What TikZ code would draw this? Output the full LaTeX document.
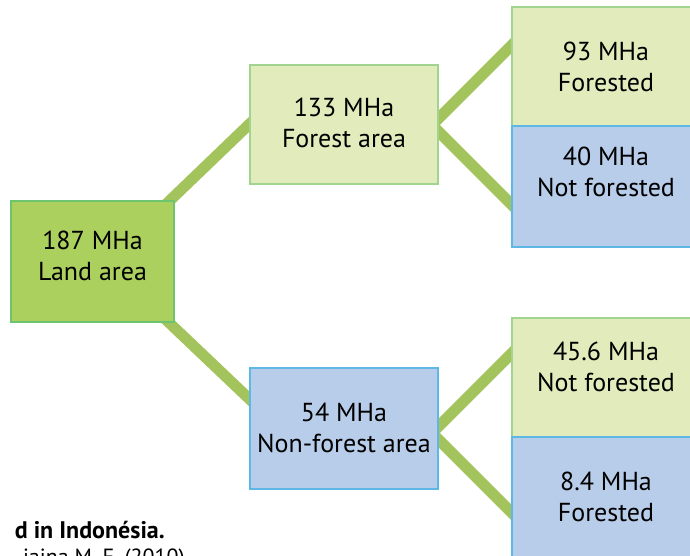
\documentclass[tikz,border=0pt]{standalone}
\usepackage{fontspec}
\setmainfont{PT Sans}
\usetikzlibrary{calc}
\definecolor{landfill}{HTML}{ACD05E}
\definecolor{landedge}{HTML}{6DC46F}
\definecolor{lgfill}{HTML}{E2EBBB}
\definecolor{lgedge}{HTML}{9FD58F}
\definecolor{bfill}{HTML}{B8CDEA}
\definecolor{bedge}{HTML}{5DB8E6}
\definecolor{conn}{HTML}{A3C45C}
\tikzset{
  box/.style={rectangle, inner sep=0pt, line width=2.5pt},
  landbox/.style={box, fill=landfill, draw=landedge},
  greenbox/.style={box, fill=lgfill, draw=lgedge},
  bluebox/.style={box, fill=bfill, draw=bedge},
  txt/.style={align=center, font=\fontsize{26}{31}\selectfont, inner sep=0pt},
  link/.style={draw=conn, line width=11pt, line join=miter},
  caption/.style={anchor=base east, inner sep=0pt, font=\fontsize{22}{26}\selectfont}
}
\begin{document}
\begin{tikzpicture}[x=1pt, y=-1pt]
\useasboundingbox (0,0) rectangle (690,555);
\clip (0,0) rectangle (690,555);
% connectors
\coordinate (l1) at (160,210);
\coordinate (f1) at (262,112);
\coordinate (l2) at (160,314);
\coordinate (nf1) at (262,411);
\coordinate (fa) at (432,125);
\coordinate (t1) at (522,35);
\coordinate (t2) at (522,215);
\coordinate (na) at (432,433);
\coordinate (t3) at (522,343);
\coordinate (t4) at (522,523);
\draw[link] (l1) -- (f1);
\draw[link] (l2) -- (nf1);
\draw[link] (t1) -- (fa) -- (t2);
\draw[link] (t3) -- (na) -- (t4);
% boxes
\node[landbox, minimum width=163pt, minimum height=121pt] (land) at (92.5,261.5) {};
\node[greenbox, minimum width=188pt, minimum height=119pt] (forest) at (344,124.5) {};
\node[bluebox, minimum width=188pt, minimum height=121pt] (nonforest) at (344,428.5) {};
\node[greenbox, minimum width=188pt, minimum height=119pt] (b93) at (606,66.5) {};
\node[bluebox, minimum width=188pt, minimum height=121pt] (b40) at (606,186.5) {};
\node[greenbox, minimum width=188pt, minimum height=119pt] (b456) at (606,377.5) {};
\node[bluebox, minimum width=188pt, minimum height=121pt] (b84) at (606,497.5) {};
% texts
\node[txt] (tland) at (92.5,256) {187 MHa\\Land area};
\node[txt] (tforest) at (344,123) {133 MHa\\Forest area};
\node[txt] (tnonforest) at (344,427.5) {54 MHa\\Non-forest area};
\node[txt] (t93) at (606,66.5) {93 MHa\\Forested};
\node[txt] (t40) at (606,172) {40 MHa\\Not forested};
\node[txt] (t456) at (606,367) {45.6 MHa\\Not forested};
\node[txt] (t84) at (606,497) {8.4 MHa\\Forested};
% caption (cut off at the picture's edges, as in the reference)
\node[caption, font=\fontsize{24}{28}\selectfont\bfseries] (cap1) at (165,538) {d in Indonésia.};
\node[caption] (cap2) at (185,564) {iaina M. F. (2010)};
\end{tikzpicture}
\end{document}
